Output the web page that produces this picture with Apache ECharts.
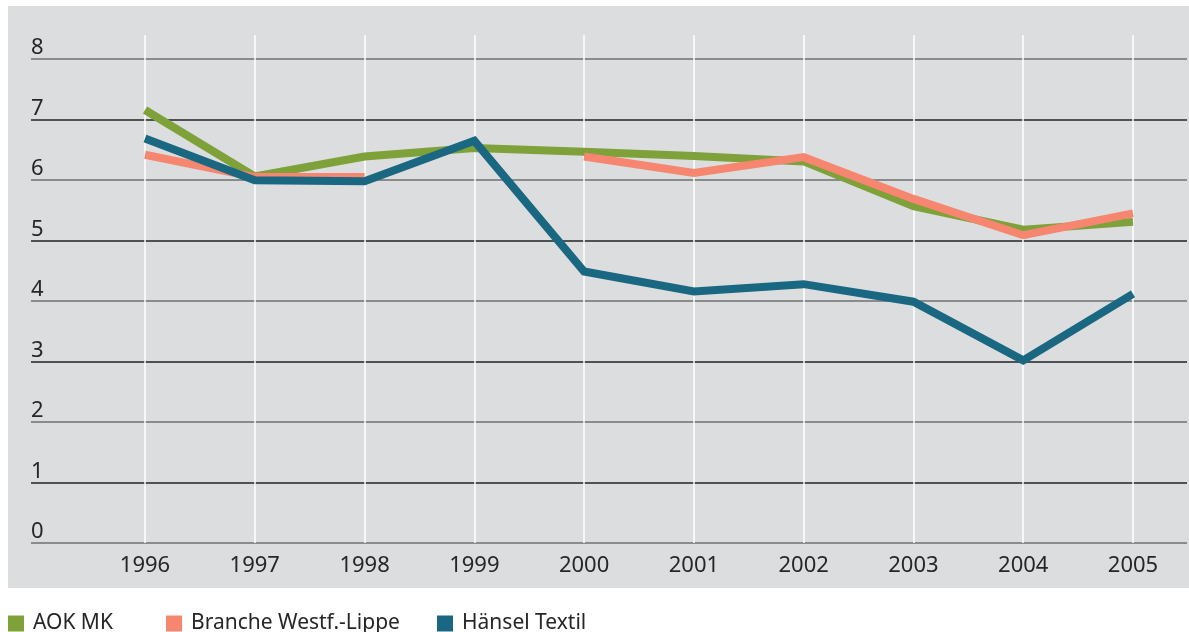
<!DOCTYPE html>
<html>
<head>
<meta charset="utf-8">
<script src="https://cdn.jsdelivr.net/npm/echarts@6/dist/echarts.min.js"></script>
<style>
  html, body { margin: 0; padding: 0; background: #ffffff; }
  #chart { width: 1189px; height: 632px; }
</style>
</head>
<body>
<div id="chart"></div>
<script>
// Years on the horizontal axis
const years = ['1996', '1997', '1998', '1999', '2000', '2001', '2002', '2003', '2004', '2005'];

// Series values per year (null = no value reported)
const aokMK = [7.16, 6.06, 6.39, 6.53, 6.47, 6.40, 6.31, 5.57, 5.18, 5.31];
const brancheWL = [6.42, 6.05, 6.05, null, 6.39, 6.12, 6.38, 5.69, 5.09, 5.45];
const haenselTextil = [6.69, 6.00, 5.98, 6.65, 4.49, 4.16, 4.28, 3.99, 3.02, 4.12];

// Value axis tick labels
const yTicks = [0, 1, 2, 3, 4, 5, 6, 7, 8];

const seriesNames = ['AOK MK', 'Branche Westf.-Lippe', 'Hänsel Textil'];
const colors = ['#7ea13a', '#f6866f', '#1a6781'];

const FONT = '"Noto Sans", "DejaVu Sans", sans-serif';
const TEXT = '#262626';

const chart = echarts.init(document.getElementById('chart'), null, { renderer: 'canvas' });

const yMin = yTicks[0];
const yTop = yTicks[yTicks.length - 1];
const plotMax = 8.4;

function legendFor(i, left) {
  return {
    data: [seriesNames[i]],
    left: left,
    bottom: -2,
    padding: 0,
    itemWidth: 16,
    itemHeight: 16,
    icon: 'rect',
    itemGap: 0,
    textStyle: { fontFamily: FONT, fontSize: 21, color: TEXT, padding: [0, 0, 0, 4] }
  };
}

chart.setOption({
  animation: false,
  backgroundColor: '#ffffff',
  graphic: [{
    type: 'rect',
    z: -10,
    silent: true,
    shape: { x: 8, y: 6, width: 1181, height: 582 },
    style: { fill: '#dcdddf' }
  }],
  legend: [legendFor(0, 8), legendFor(1, 166), legendFor(2, 437)],
  grid: [
    // wide grid carrying the horizontal rules and value labels
    { left: 31, right: 2, top: 59, bottom: 89 },
    // plot grid carrying the year axis and the lines
    { left: 145, right: 56, top: 35, bottom: 89 }
  ],
  xAxis: [
    {
      gridIndex: 0, type: 'value', min: 0, max: 1, show: false
    },
    {
      gridIndex: 1,
      type: 'category',
      data: years,
      boundaryGap: false,
      axisLine: { show: false },
      axisTick: { show: false },
      axisLabel: { fontFamily: FONT, fontSize: 22, color: TEXT, margin: 12 },
      splitLine: { show: true, lineStyle: { color: '#ffffff', width: 1.5 } }
    }
  ],
  yAxis: [
    {
      gridIndex: 0,
      type: 'value',
      min: yMin,
      max: yTop,
      interval: 1,
      axisLine: { show: false },
      axisTick: { show: false },
      axisLabel: {
        inside: true,
        margin: 0,
        verticalAlign: 'bottom',
        fontFamily: FONT,
        fontSize: 22,
        color: TEXT,
        padding: [0, 0, 0, 0]
      },
      splitLine: { show: true, lineStyle: { color: ['#6f6f6f', '#222222'], width: 1.5 } }
    },
    {
      gridIndex: 1, type: 'value', min: yMin, max: plotMax, show: false,
      splitLine: { show: false }
    }
  ],
  series: [aokMK, brancheWL, haenselTextil].map(function (vals, i) {
    return {
      name: seriesNames[i],
      type: 'line',
      xAxisIndex: 1,
      yAxisIndex: 1,
      data: vals,
      connectNulls: false,
      showSymbol: false,
      symbol: 'none',
      z: 2 + i,
      itemStyle: { color: colors[i] },
      lineStyle: { color: colors[i], width: 8, cap: 'butt', join: 'miter' }
    };
  })
});
</script>
</body>
</html>
